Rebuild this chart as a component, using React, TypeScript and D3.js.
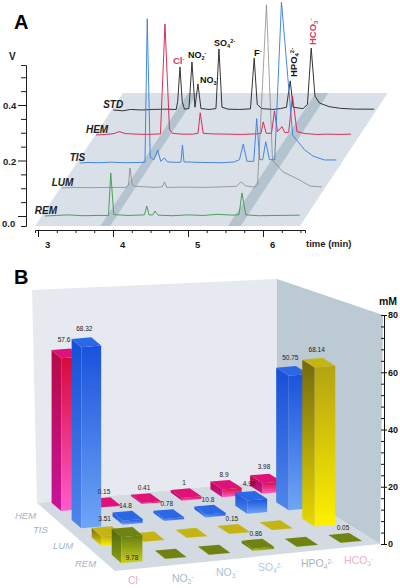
import React, { useEffect, useRef } from "react";
import * as d3 from "d3";

// Panel A: chromatograms, [time in min, volts above the trace's own baseline]
const stdTrace = [[3.07,0],[3.2,-.003],[3.3,.002],[3.45,0],[3.6,.002],[3.75,.003],[3.91,.002],[3.93,.03],[3.96,.155],[3.99,.03],[4.02,.003],[4.08,.005],[4.12,.173],[4.16,.01],[4.2,.094],[4.24,.005],[4.35,.002],[4.44,.005],[4.48,.22],[4.52,.01],[4.6,.003],[4.75,.002],[4.9,.004],[4.95,.187],[4.99,.02],[5.05,.005],[5.2,.002],[5.3,.005],[5.38,.01],[5.43,.105],[5.47,.01],[5.6,.005],[5.66,.02],[5.71,.223],[5.76,.05],[5.82,.025],[5.95,.012],[6.1,.006],[6.3,.003],[6.55,.003]];
const hemTrace = [[3.06,0],[3.2,.002],[3.3,.005],[3.37,.012],[3.45,.005],[3.6,.003],[3.75,.002],[3.92,.004],[3.98,.4],[4.04,.02],[4.08,.006],[4.2,.003],[4.35,.003],[4.42,.006],[4.45,.08],[4.49,.006],[4.6,.004],[4.8,.003],[5.0,.002],[5.2,.004],[5.26,.006],[5.29,.047],[5.33,.006],[5.4,.006],[5.44,.087],[5.48,.012],[5.54,.03],[5.58,.008],[5.63,.01],[5.68,.14],[5.74,.012],[5.85,.005],[6.0,.002],[6.15,.003],[6.3,.002],[6.46,.003]];
const tisTrace = [[3.09,0],[3.2,.002],[3.35,.001],[3.5,.003],[3.7,.001],[3.9,.002],[3.96,.003],[3.99,.52],[4.03,.02],[4.08,.012],[4.13,.047],[4.17,.006],[4.22,.018],[4.26,.004],[4.4,.002],[4.44,.004],[4.46,.065],[4.48,.004],[4.7,.002],[5.0,.001],[5.15,.004],[5.22,.012],[5.27,.068],[5.32,.006],[5.41,.006],[5.45,.16],[5.49,.012],[5.53,.012],[5.57,.076],[5.62,.012],[5.69,.012],[5.78,.58],[5.93,.1],[6.09,.047],[6.2,.025],[6.35,.011],[6.51,.011]];
const lumTrace = [[3.07,0],[3.25,.002],[3.45,.001],[3.7,.002],[3.92,.002],[3.96,.01],[3.98,.072],[4.01,.012],[4.05,.006],[4.2,.004],[4.3,.002],[4.41,.004],[4.44,.022],[4.47,.002],[4.7,.003],[4.95,.002],[5.2,.004],[5.4,.006],[5.46,.022],[5.52,.008],[5.64,.003],[5.68,.012],[5.8,.66],[5.88,.1],[6.02,.058],[6.24,.029],[6.38,.007],[6.54,.004]];
const remTrace = [[3.09,0],[3.25,.002],[3.4,.004],[3.6,.001],[3.8,.002],[3.94,.002],[3.97,.155],[4.01,.005],[4.2,.002],[4.42,.004],[4.45,.036],[4.48,.004],[4.53,.004],[4.56,.018],[4.6,.003],[4.8,.001],[5,.004],[5.2,.002],[5.4,.006],[5.6,.003],[5.68,.005],[5.72,.083],[5.77,.004],[5.95,.001],[6.2,.002],[6.49,.003]];
const traces = [stdTrace, hemTrace, tisTrace, lumTrace, remTrace];
const traceNames = ["STD", "HEM", "TIS", "LUM", "REM"];
const traceBase = [0.382, 0.292, 0.191, 0.101, 0];
const traceColors = ["#2a2a2a", "#d6264f", "#3b82e0", "#7c7c7c", "#459c52"];

// Panel B: concentrations in mM. Heights follow the picture, labels are as printed
const rowNames = ["HEM", "TIS", "LUM", "REM"];
const ionNames = ["Cl", "NO", "NO", "SO", "HPO", "HCO"];
const ionSubs = ["", "2", "3", "4", "4", "3"];
const ionSups = ["-", "-", "-", "2-", "2-", "-"];
const hemValues = [57.6, 0.15, 0.41, 1, 2.9, 3.98];
const tisValues = [68.32, 1.48, 0.78, 1.08, 4.98, 50.75];
const lumValues = [3.51, 0.1, 0.1, 0.15, 0.1, 60];
const remValues = [9.78, 0.1, 0.1, 0.86, 0.1, 0.05];
const hemLabels = ["57.6", "0.15", "0.41", "1", "8.9", "3.98"];
const tisLabels = ["68.32", "14.8", "0.78", "10.8", "4.98", "50.75"];
const lumLabels = ["3.51", "", "", "0.15", "", "68.14"];
const remLabels = ["9.78", "", "", "0.86", "", "0.05"];
const barValues = [hemValues, tisValues, lumValues, remValues];
const barLabels = [hemLabels, tisLabels, lumLabels, remLabels];
const rowColors = [
  { top: "#e0127a", dark: "#b80a45", light: "#ff5ccb", side: "#c8149a", head: "#d8083a" },
  { top: "#2a68e6", dark: "#164fd6", light: "#6ea6f6", side: "#4f86ea", head: "#1a52dc" },
  { top: "#c4b414", dark: "#75680f", light: "#fff000", side: "#e8d800", head: "#b3a312" },
  { top: "#6f8212", dark: "#4f6610", light: "#c8d020", side: "#8ca018", head: "#667d10" },
];

const font = "'Liberation Sans', Arial, sans-serif";

function ion(g: any, x: number, y: number, base: string, sub: string, sup: string, size: number, color: string, weight: string, rotate = 0) {
  const t = g.append("text")
    .attr("transform", `translate(${x},${y}) rotate(${rotate})`)
    .attr("font-family", font).attr("font-size", size)
    .attr("font-weight", weight).attr("fill", color);
  t.append("tspan").text(base);
  if (sub) t.append("tspan").attr("dy", 2).attr("font-size", size * 0.62).text(sub);
  if (sup) t.append("tspan").attr("dy", sub ? -5 : -3).attr("font-size", size * 0.62).text(sup);
}

export default function App() {
  const ref = useRef<SVGSVGElement>(null);

  useEffect(() => {
    const svg = d3.select(ref.current);
    svg.selectAll("*").remove();

    // ---------- Panel A ----------
    const a = svg.append("g");
    const shear = 0.66;
    const x = d3.scaleLinear().domain([3, 6]).range([38, 263]);
    const y = d3.scaleLinear().domain([0, 0.4]).range([216, 105]);
    const floorLine = (t: number, v: number) => [x(t) + shear * (y(0) - y(v)), y(v)];

    const polyA = (pts: number[][], fill: string) =>
      a.append("polygon").attr("points", pts.map((p) => p.join(",")).join(" ")).attr("fill", fill);
    polyA([floorLine(3.05, -0.036), floorLine(6.58, -0.036), floorLine(6.58, 0.443), floorLine(3.05, 0.443)], "#d9e0e8");
    polyA([floorLine(3.92, -0.036), floorLine(4.05, -0.036), floorLine(4.05, 0.443), floorLine(3.92, 0.443)], "#b4c3ce");
    polyA([floorLine(5.62, -0.036), floorLine(5.79, -0.036), floorLine(5.79, 0.443), floorLine(5.62, 0.443)], "#b4c3ce");

    traces.forEach((trace, i) => {
      const line = d3.line<number[]>()
        .x((d) => x(d[0]) + shear * (y(0) - y(traceBase[i])))
        .y((d) => y(d[1] + traceBase[i]));
      a.append("path").attr("d", line(trace)).attr("fill", "none")
        .attr("stroke", traceColors[i]).attr("stroke-width", i === 3 ? 0.7 : 0.95);
      const sx = x(trace[0][0]) + shear * (y(0) - y(traceBase[i]));
      a.append("text").attr("x", sx - 10).attr("y", y(traceBase[i]) - 2)
        .attr("font-family", font).attr("font-size", 10).attr("font-style", "italic")
        .attr("font-weight", "bold").attr("fill", "#1c1c1c").text(traceNames[i]);
    });

    // y axis, long ticks at 0, 0.2, 0.4
    const yAxisScale = d3.scaleLinear().domain([-0.036, 0.544]).range([y(-0.036), y(0.544)]);
    const yg = a.append("g").attr("transform", "translate(26,0)")
      .call(d3.axisLeft(yAxisScale).tickValues(d3.range(0, 0.55, 0.05)).tickSize(5).tickFormat(() => ""));
    yg.selectAll(".tick line").filter((d: any) => Math.round(d * 100) % 20 === 0).attr("x2", -8);
    a.append("text").attr("x", 3).attr("y", 109).text("0.4");
    a.append("text").attr("x", 3).attr("y", 165).text("0.2");
    a.append("text").attr("x", 2).attr("y", 227).text("0.0");
    a.append("text").attr("x", 9).attr("y", 60).attr("font-size", 10).text("V");

    // time axis
    const xAxisScale = d3.scaleLinear().domain([2.96, 6.56]).range([x(2.96), x(6.56)]);
    const xg = a.append("g").attr("transform", "translate(0,230)")
      .call(d3.axisBottom(xAxisScale).tickValues(d3.range(3, 6.75, 0.25)).tickSize(3).tickFormat(() => ""));
    xg.selectAll(".tick line").filter((d: any) => Number.isInteger(d)).attr("y2", 7);
    [3, 4, 5, 6].forEach((t) => a.append("text").attr("x", x(t) + 7).attr("y", 248).text(t));
    a.append("text").attr("x", 306).attr("y", 247).attr("font-size", 9.5).text("time (min)");
    a.selectAll("g .domain, g .tick line").attr("stroke", "#1c1c1c");
    a.selectAll(":scope > text:not([font-style])")
      .attr("font-family", font).attr("font-weight", "bold").attr("fill", "#1c1c1c")
      .filter(function () { return !d3.select(this).attr("font-size"); }).attr("font-size", 9.5);

    const inkRed = "#d23a68";
    ion(a, 173, 64, "Cl", "", "-", 9.5, inkRed, "bold");
    ion(a, 188, 58, "NO", "2", "-", 9, "#111", "bold");
    ion(a, 200, 83, "NO", "3", "-", 9, "#111", "bold");
    ion(a, 214, 46, "SO", "4", "2-", 9, "#111", "bold");
    ion(a, 254, 56, "F", "", "-", 9.5, "#111", "bold");
    ion(a, 297, 77, "HPO", "4", "2-", 9.5, "#111", "bold", -90);
    ion(a, 316, 45, "HCO", "3", "-", 9.5, inkRed, "bold", -90);

    svg.append("text").attr("x", 14).attr("y", 29).attr("font-family", font)
      .attr("font-size", 20).attr("font-weight", "bold").text("A");
    svg.append("text").attr("x", 14).attr("y", 284).attr("font-family", font)
      .attr("font-size", 20).attr("font-weight", "bold").text("B");

    // ---------- Panel B ----------
    const b = svg.append("g");
    const defs = svg.append("defs");
    rowColors.forEach((c, i) => {
      const grad = (id: string, from: string, to: string) => {
        const g = defs.append("linearGradient").attr("id", id).attr("x1", 0).attr("y1", 0).attr("x2", 0).attr("y2", 1);
        g.append("stop").attr("offset", "0%").attr("stop-color", from);
        g.append("stop").attr("offset", "100%").attr("stop-color", to);
      };
      grad(`left${i}`, c.dark, c.side);
      grad(`front${i}`, c.head, c.light);
    });

    const polyB = (pts: number[][], fill: string) =>
      b.append("polygon").attr("points", pts.map((p) => p.join(",")).join(" ")).attr("fill", fill);
    polyB([[32, 290], [277, 279], [277, 480], [37, 503]], "#e7e9f0");
    polyB([[277, 279], [383, 315], [380, 544], [277, 480]], "#bccad4");
    polyB([[37, 503], [277, 480], [380, 544], [115, 571]], "#d4dae2");

    // bilinear floor grid: column c, row r to pixels
    const cs = d3.scaleLinear().domain([0, 5]).range([0, 1]);
    const rs = d3.scaleLinear().domain([0, 3]).range([0, 1]);
    const backX = d3.scaleLinear().domain([0, 1]).range([66, 266]);
    const backY = d3.scaleLinear().domain([0, 1]).range([506, 489]);
    const frontX = d3.scaleLinear().domain([0, 1]).range([127, 345]);
    const frontY = d3.scaleLinear().domain([0, 1]).range([558, 538]);
    const grid = (c: number, r: number) => {
      const u = cs(c), v = rs(r);
      return [backX(u) + (frontX(u) - backX(u)) * v, backY(u) + (frontY(u) - backY(u)) * v];
    };
    // bars sit deeper than the axis, so they rise a little less per mM
    const mm = d3.scaleLinear().domain([0, 80]).range([0, 212]);
    const half = 0.24;
    const texts: any[] = [];

    barValues.forEach((row, r) => {
      row.forEach((value, c) => {
        const bl = grid(c - half, r - half);
        const br = grid(c + half, r - half);
        const fr = grid(c + half, r + half);
        const fl = grid(c - half, r + half);
        const h = mm(value);
        const up = (p: number[]) => [p[0], p[1] - h];
        polyB([bl, fl, up(fl), up(bl)], `url(#left${r})`);
        polyB([fl, fr, up(fr), up(fl)], `url(#front${r})`);
        polyB([up(bl), up(br), up(fr), up(fl)], rowColors[r].top);
        const text = barLabels[r][c];
        if (!text) return;
        const inside = r === 3 && c === 0;
        const mid = grid(c, r);
        texts.push({
          text,
          x: inside ? mid[0] + 5 : mid[0] - 2,
          y: inside ? fl[1] - 3 : Math.min(up(bl)[1], up(br)[1]) - (h > 30 ? 6 : h > 8 ? 5 : 3),
        });
      });
    });
    b.selectAll(".bar-label").data(texts).join("text").attr("class", "bar-label")
      .attr("x", (d) => d.x).attr("y", (d) => d.y)
      .attr("text-anchor", "middle").attr("font-family", font)
      .attr("font-size", 6.5).attr("fill", "#222").text((d) => d.text);

    // right axis, majors out to the right and minors on the left
    const mmAxis = d3.scaleLinear().domain([0, 80]).range([544, 315]);
    const major = b.append("g").attr("transform", "translate(384,0)")
      .call(d3.axisRight(mmAxis).tickValues([0, 20, 40, 60, 80]).tickSize(3).tickPadding(1).tickFormat(d3.format("d")));
    major.selectAll("text").attr("font-family", font).attr("font-size", 9).attr("font-weight", "bold").attr("fill", "#111");
    major.selectAll("line, path").attr("stroke", "#111");
    b.append("g").attr("transform", "translate(384,0)")
      .call(d3.axisRight(mmAxis).tickValues(d3.range(0, 84, 4)).tickSize(-3).tickFormat(() => ""))
      .selectAll("line, path").attr("stroke", "#111");
    b.append("text").attr("x", 379).attr("y", 305).attr("font-family", font)
      .attr("font-size", 10.5).attr("font-weight", "bold").attr("fill", "#111").text("mM");

    const rowLabelPos = [[15, 519], [33, 533], [53, 549], [75, 567]];
    rowNames.forEach((name, i) => {
      b.append("text").attr("x", rowLabelPos[i][0]).attr("y", rowLabelPos[i][1])
        .attr("font-family", font).attr("font-size", 9.5).attr("font-style", "italic")
        .attr("fill", "#a3b4c6").text(name);
    });
    const ionPos = [[128, 584], [172, 582], [216, 576], [258, 571], [301, 567], [344, 564]];
    const ionColors = ["#eaa9c2", "#a9b8c4", "#a9c2da", "#b9c5d2", "#a9b2ba", "#eab2c2"];
    ionNames.forEach((name, i) => {
      ion(b, ionPos[i][0], ionPos[i][1], name, ionSubs[i], ionSups[i], 10.5, ionColors[i], "normal");
    });
  }, []);

  return <svg ref={ref} width={400} height={588} style={{ position: "absolute", left: 0, top: 0, background: "#fff" }} />;
}
